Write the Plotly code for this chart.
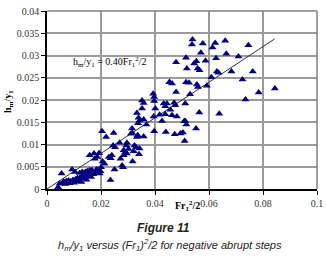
import plotly.graph_objects as go

x_low = [0.0041,0.0047,0.0054,0.0058,0.0062,0.0068,0.0072,0.0076,0.0080,0.0084,0.0088,0.0093,0.0096,0.0100,
         0.0104,0.0106,0.0110,0.0113,0.0117,0.0121,0.0124,0.0127,0.0130,0.0132,0.0136,0.0139,0.0143,0.0146,
         0.0149,0.0152,0.0156,0.0158,0.0163,0.0167,0.0172,0.0179,0.0183,0.0189,0.0195,0.0198,0.0200,0.0235]
y_low = [0.0004,0.0012,0.0035,0.0014,0.0017,0.0011,0.0018,0.0015,0.0019,0.0013,0.0017,0.0044,0.0020,0.0014,
         0.0038,0.0022,0.0017,0.0025,0.0020,0.0036,0.0027,0.0016,0.0038,0.0024,0.0036,0.0029,0.0038,0.0021,
         0.0040,0.0031,0.0037,0.0042,0.0027,0.0042,0.0033,0.0036,0.0044,0.0042,0.0035,0.0040,0.0049,0.0020]

x_mid = [0.0158,0.0174,0.0177,0.0186,0.0193,0.0206,0.0204,0.0213,0.0219,0.0247,0.0229,0.0236,0.0240,0.0245,
         0.0250,0.0252,0.0269,0.0272,0.0278,0.0282,0.0284,0.0290,0.0296,0.0284,0.0294,0.0296,0.0302,0.0317,
         0.0321,0.0324,0.0330,0.0341,0.0343,0.0316,0.0311,0.0315,0.0333,0.0336,0.0358,0.0397,0.0440,0.0473,
         0.0494,0.0503,0.0510]
y_mid = [0.0076,0.0080,0.0068,0.0072,0.0081,0.0062,0.0130,0.0057,0.0117,0.0126,0.0072,0.0069,0.0076,0.0098,
         0.0044,0.0094,0.0104,0.0068,0.0053,0.0049,0.0087,0.0083,0.0080,0.0076,0.0098,0.0104,0.0090,0.0062,
         0.0085,0.0098,0.0094,0.0078,0.0091,0.0126,0.0124,0.0136,0.0117,0.0121,0.0118,0.0130,0.0128,0.0123,
         0.0125,0.0127,0.0108]

x_umid = [0.0339,0.0343,0.0337,0.0358,0.0368,0.0333,0.0352,0.0395,0.0417,0.0438,0.0463,0.0426,0.0401,0.0457,
          0.0438,0.0475,0.0352,0.0358,0.0393,0.0397,0.0397,0.0432,0.0471,0.0453,0.0463,0.0478,0.0512,0.0481,
          0.0512,0.0444]
y_umid = [0.0160,0.0154,0.0148,0.0156,0.0145,0.0171,0.0181,0.0163,0.0167,0.0168,0.0166,0.0153,0.0181,0.0178,
          0.0186,0.0188,0.0199,0.0193,0.0214,0.0207,0.0198,0.0192,0.0194,0.0240,0.0237,0.0218,0.0192,0.0163,
          0.0153,0.0192]

x_up = [0.0478,0.0515,0.0518,0.0454,0.0515,0.0539,0.0537,0.0577,0.0623,0.0613,0.0660,0.0746,0.0570,0.0664,
        0.0709,0.0553,0.0545,0.0587,0.0626,0.0558,0.0565,0.0629,0.0635,0.0683,0.0762,0.0609,0.0724,0.0526,
        0.0555,0.0592,0.0559,0.0844,0.0784,0.0530,0.0735,0.0564,0.0638,0.0552,0.0516,0.0508]
y_up = [0.0285,0.0295,0.0271,0.0240,0.0240,0.0336,0.0325,0.0327,0.0328,0.0318,0.0333,0.0323,0.0306,0.0304,
        0.0298,0.0287,0.0282,0.0288,0.0294,0.0271,0.0267,0.0264,0.0261,0.0264,0.0264,0.0251,0.0246,0.0239,
        0.0235,0.0232,0.0229,0.0226,0.0217,0.0213,0.0201,0.0172,0.0169,0.0136,0.0145,0.0152]

xs = x_low + x_mid + x_umid + x_up
ys = y_low + y_mid + y_umid + y_up

fit_x = [0.0, 0.0843]
fit_coef = 0.40
fit_y = [fit_coef * v for v in fit_x]

x_ticks = [0, 0.02, 0.04, 0.06, 0.08, 0.1]
x_tick_labels = ["0", "0.02", "0.04", "0.06", "0.08", "0.1"]
y_ticks = [0, 0.005, 0.01, 0.015, 0.02, 0.025, 0.03, 0.035, 0.04]
y_tick_labels = ["0", "0.005", "0.01", "0.015", "0.02", "0.025", "0.03", "0.035", "0.04"]

serif = "Liberation Serif, Times New Roman, serif"
sans = "Liberation Sans, Arial, sans-serif"

L, R, T, B = 47, 10, 11, 79
W, H = 327, 268
pw = W - L - R
ph = H - T - B

def px(xp):
    return (xp - L) / pw

def py(yp):
    return (H - B - yp) / ph

grid_color = "#9a9a9a"

fig = go.Figure()
fig.add_trace(go.Scatter(x=fit_x, y=fit_y, mode="lines",
                         line=dict(color="#303030", width=1), hoverinfo="skip"))
fig.add_trace(go.Scatter(x=xs, y=ys, mode="markers",
                         marker=dict(symbol="triangle-up", size=7, color="#000080",
                                     line=dict(width=0))))

fig.update_layout(
    template="none",
    width=W, height=H,
    margin=dict(l=L, r=R, t=T, b=B, autoexpand=False),
    paper_bgcolor="white", plot_bgcolor="white",
    showlegend=False,
    xaxis=dict(range=[0, 0.1], tickmode="array", tickvals=x_ticks, ticktext=x_tick_labels,
               showgrid=True, gridcolor=grid_color, gridwidth=1.5,
               showline=True, linecolor="black", linewidth=1.5,
               ticks="outside", ticklen=4, tickcolor="black", tickwidth=1,
               tickfont=dict(family=serif, size=10, color="#333333"),
               zeroline=False, fixedrange=True, automargin=False, layer="above traces"),
    yaxis=dict(range=[0, 0.04], tickmode="array", tickvals=y_ticks, ticktext=y_tick_labels,
               showgrid=True, gridcolor=grid_color, gridwidth=1.5,
               showline=True, linecolor="black", linewidth=1.5,
               ticks="outside", ticklen=4, tickcolor="black", tickwidth=1,
               tickfont=dict(family=serif, size=10, color="#333333"),
               zeroline=False, fixedrange=True, automargin=False, layer="above traces"),
    shapes=[
        dict(type="line", xref="paper", yref="paper", x0=0, x1=1, y0=1, y1=1,
             line=dict(color="#808080", width=1.5)),
        dict(type="line", xref="paper", yref="paper", x0=1, x1=1, y0=0, y1=1,
             line=dict(color="#808080", width=1.5)),
    ],
    annotations=[
        dict(text="h<sub>m</sub>/y<sub>1</sub> = 0.40Fr<sub>1</sub><sup>2</sup>/2",
             x=0.0235, y=0.0285, xref="x", yref="y", showarrow=False,
             font=dict(family=serif, size=10, color="black")),
        dict(text="<b>Fr<sub>1</sub><sup>2</sup>/2</b>", x=px(187), y=py(206),
             xref="paper", yref="paper", xanchor="center", yanchor="middle", showarrow=False,
             font=dict(family=serif, size=10, color="black")),
        dict(text="<b>h<sub>m</sub>/y<sub>1</sub></b>", x=px(8), y=py(102),
             xref="paper", yref="paper", xanchor="center", yanchor="middle", showarrow=False,
             textangle=-90, font=dict(family=serif, size=10, color="black")),
        dict(text="<b><i>Figure 11</i></b>", x=px(163), y=py(228),
             xref="paper", yref="paper", xanchor="center", yanchor="middle", showarrow=False,
             font=dict(family=sans, size=12, color="#222222")),
        dict(text="<i>h<sub>m</sub>/y<sub>1</sub> versus (Fr<sub>1</sub>)<sup>2</sup>/2 for negative abrupt steps</i>",
             x=px(170), y=py(245),
             xref="paper", yref="paper", xanchor="center", yanchor="middle", showarrow=False,
             font=dict(family=sans, size=11, color="#222222")),
    ],
)

fig.write_html("out.html", config={"displayModeBar": False},
               post_script="document.body.style.margin='0px';")
